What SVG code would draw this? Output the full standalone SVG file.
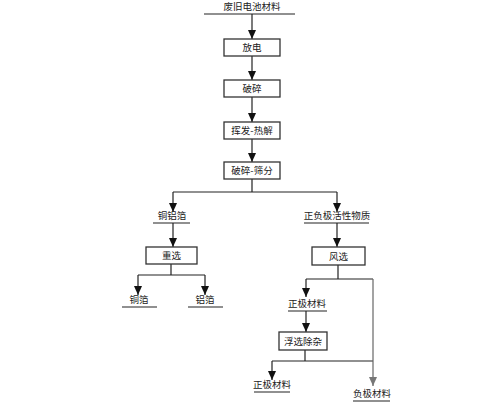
<svg xmlns="http://www.w3.org/2000/svg" width="500" height="404" viewBox="0 0 500 404">
<defs>
<style>
text{font-family:"Noto Sans CJK SC","Noto Sans",sans-serif;font-size:9.5px;fill:#222;text-anchor:middle}
.box{fill:#fff;stroke:#333;stroke-width:1.3}
.ln{fill:none;stroke:#222;stroke-width:1.2}
.ul{fill:none;stroke:#222;stroke-width:1.1}
.gl{fill:none;stroke:#666;stroke-width:1.2}
</style>
<marker id="ah" markerUnits="userSpaceOnUse" markerWidth="9" markerHeight="8" viewBox="0 0 9 8" refX="9" refY="4" orient="auto"><path d="M0,0 L9,4 L0,8 Z" fill="#111"/></marker>
<marker id="ag" markerUnits="userSpaceOnUse" markerWidth="9" markerHeight="8" viewBox="0 0 9 8" refX="9" refY="4" orient="auto"><path d="M0,0 L9,4 L0,8 Z" fill="#777"/></marker>
</defs>
<rect width="500" height="404" fill="#fff"/>
<g id="connectors">
<path class="ln" d="M252,14 V39" marker-end="url(#ah)"/>
<path class="ln" d="M252,56 V80" marker-end="url(#ah)"/>
<path class="ln" d="M252,97 V122" marker-end="url(#ah)"/>
<path class="ln" d="M252,139 V162" marker-end="url(#ah)"/>
<path class="ln" d="M252,179 V192 M173,192 H337"/>
<path class="ln" d="M173,192 V212" marker-end="url(#ah)"/>
<path class="ln" d="M337,192 V212" marker-end="url(#ah)"/>
<path class="ln" d="M173,223 V247" marker-end="url(#ah)"/>
<path class="ln" d="M337,223 V247" marker-end="url(#ah)"/>
<path class="ln" d="M171,264 V275 M138,275 H205"/>
<path class="ln" d="M138,275 V295" marker-end="url(#ah)"/>
<path class="ln" d="M205,275 V295" marker-end="url(#ah)"/>
<path class="ln" d="M338,265 V279 M306,279 H373"/>
<path class="ln" d="M306,279 V297" marker-end="url(#ah)"/>
<path class="ln" d="M306,311 V332" marker-end="url(#ah)"/>
<path class="ln" d="M305,350 V361 M272,361 H373"/>
<path class="ln" d="M272,361 V380" marker-end="url(#ah)"/>
<path class="gl" d="M373,279 V386" marker-end="url(#ag)"/>
</g>
<g id="n_src"><text x="252" y="10">废旧电池材料</text><path class="ul" d="M204,14 H295"/></g>
<g id="n_discharge"><rect class="box" x="224" y="39" width="56" height="17"/><text x="252" y="51">放电</text></g>
<g id="n_crush"><rect class="box" x="224" y="80" width="56" height="17"/><text x="252" y="92">破碎</text></g>
<g id="n_pyro"><rect class="box" x="224" y="122" width="56" height="17"/><text x="252" y="134">挥发-热解</text></g>
<g id="n_sieve"><rect class="box" x="224" y="162" width="56" height="17"/><text x="252" y="174">破碎-筛分</text></g>
<g id="n_cual"><text x="172" y="219">铜铝箔</text><path class="ul" d="M153,223 H190"/></g>
<g id="n_active"><text x="337" y="219">正负极活性物质</text><path class="ul" d="M304,223 H369"/></g>
<g id="n_grav"><rect class="box" x="146" y="247" width="51" height="17"/><text x="171.5" y="259">重选</text></g>
<g id="n_wind"><rect class="box" x="312" y="247" width="53" height="18"/><text x="338.5" y="259.5">风选</text></g>
<g id="n_cu"><text x="139" y="303">铜箔</text><path class="ul" d="M122,307 H157"/></g>
<g id="n_al"><text x="205" y="303">铝箔</text><path class="ul" d="M188,307 H223"/></g>
<g id="n_cath1"><text x="307" y="307">正极材料</text><path class="ul" d="M288,311 H327"/></g>
<g id="n_flot"><rect class="box" x="279" y="332" width="48" height="18"/><text x="303" y="344.5">浮选除杂</text></g>
<g id="n_cath2"><text x="272" y="388">正极材料</text><path class="ul" d="M254,392 H290"/></g>
<g id="n_anode"><text x="372" y="397">负极材料</text><path class="ul" d="M353,401 H390"/></g>
</svg>
